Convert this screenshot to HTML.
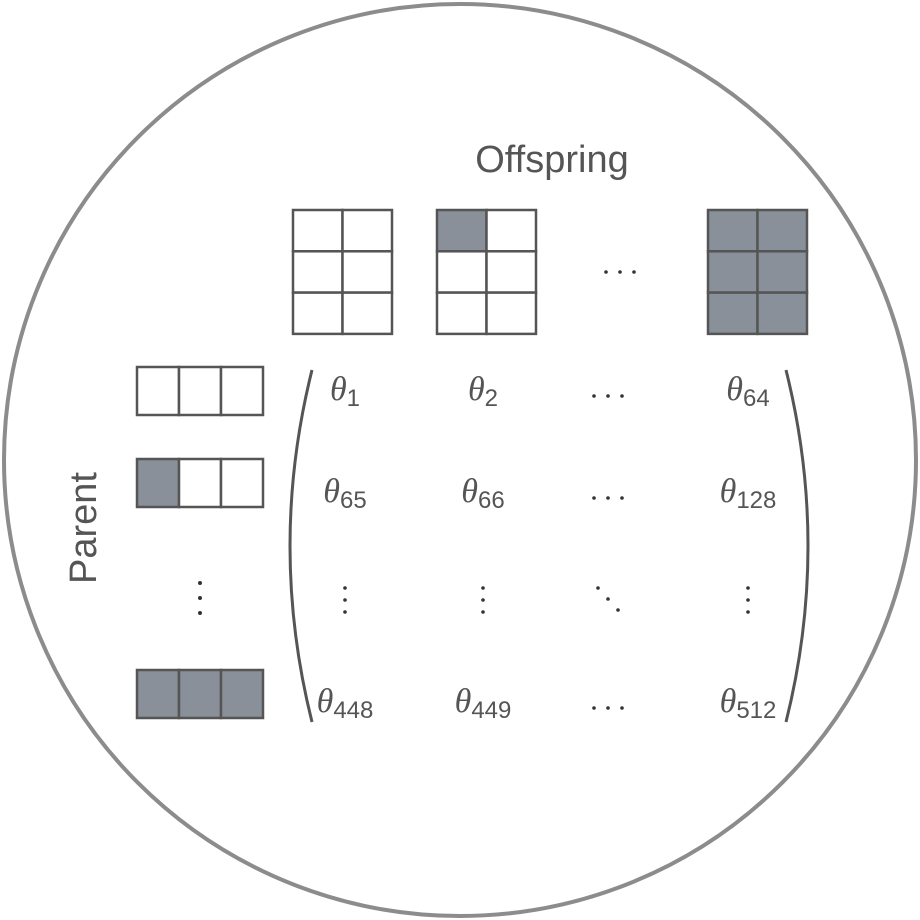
<!DOCTYPE html>
<html><head><meta charset="utf-8"><style>
html,body{margin:0;padding:0;background:#fff;}
svg{display:block;}
.t{font-family:"Liberation Sans",sans-serif;fill:#555;}
.th{font-family:"Liberation Serif",serif;font-style:italic;font-size:34px;fill:#555;}
.sb{font-family:"Liberation Sans",sans-serif;font-size:24px;fill:#555;font-style:normal;}
</style></head><body>
<svg width="920" height="920" viewBox="0 0 920 920">
<circle cx="460" cy="460" r="456" fill="#fff" stroke="#8c8c8c" stroke-width="4"/>
<text x="552" y="172" text-anchor="middle" class="t" font-size="38">Offspring</text>
<text transform="translate(96,528) rotate(-90)" text-anchor="middle" class="t" font-size="38">Parent</text>
<g id="grids"></g>
<g id="rows"></g>
<g fill="#333">
<circle cx="606" cy="272" r="1.8"/><circle cx="620" cy="272" r="1.8"/><circle cx="634" cy="272" r="1.8"/></g>
<g fill="#333">
<circle cx="200" cy="583" r="2"/><circle cx="200" cy="598" r="2"/><circle cx="200" cy="613" r="2"/></g>
<path d="M312,370 Q268,546 312,722" fill="none" stroke="#555" stroke-width="3"/>
<path d="M786,370 Q830,546 786,722" fill="none" stroke="#555" stroke-width="3"/>
<g id="matrix"></g>
</svg>
<script>
const NS="http://www.w3.org/2000/svg";
const gFill="#8a9099",stroke="#555";
function mk(t,a,p){const e=document.createElementNS(NS,t);for(const k in a)e.setAttribute(k,a[k]);p.appendChild(e);return e;}
const grids=[{x:293,f:[0,0,0,0,0,0]},{x:437,f:[1,0,0,0,0,0]},{x:708,f:[1,1,1,1,1,1]}];
const G=document.getElementById('grids');
grids.forEach((g,i)=>{const grp=mk('g',{},G);


for(let r=0;r<3;r++)for(let c=0;c<2;c++){
mk('rect',{x:g.x+c*49.5,y:210+r*41.3,width:49.5,height:41.3,fill:g.f[r*2+c]?gFill:'#fff',stroke:stroke,'stroke-width':2.5},grp);}});
const rows=[{y:367,f:[0,0,0]},{y:459,f:[1,0,0]},{y:670,f:[1,1,1]}];
const R=document.getElementById('rows');
rows.forEach((rw,i)=>{const grp=mk('g',{},R);


for(let c=0;c<3;c++)mk('rect',{x:137+c*42,y:rw.y,width:42,height:48,fill:rw.f[c]?gFill:'#fff',stroke:stroke,'stroke-width':2.5},grp);});
const M=document.getElementById('matrix');
const cx=[345,483,608,748],ry=[400,502,0,712];
const subs=[["1","2",null,"64"],["65","66",null,"128"],[null,null,null,null],["448","449",null,"512"]];
for(let r=0;r<4;r++)for(let c=0;c<4;c++){
if(r===2){const grp=mk('g',{fill:'#333'},M);


if(c===2){[0,1,2].forEach(k=>mk('circle',{cx:cx[c]-10+k*10,cy:588+k*11,r:1.8},grp));}
else [0,1,2].forEach(k=>mk('circle',{cx:cx[c],cy:588+k*12,r:1.8},grp));continue;}
if(subs[r][c]===null){const grp=mk('g',{fill:'#333'},M);


[0,1,2].forEach(k=>mk('circle',{cx:cx[c]-14+k*14,cy:ry[r]-4,r:1.8},grp));continue;}
const t=mk('text',{x:cx[c],y:ry[r],'text-anchor':'middle',class:'th'},M);


t.appendChild(document.createTextNode('θ'));
const s=mk('tspan',{class:'sb',dy:6},t);s.textContent=subs[r][c];}
</script>
</body></html>
